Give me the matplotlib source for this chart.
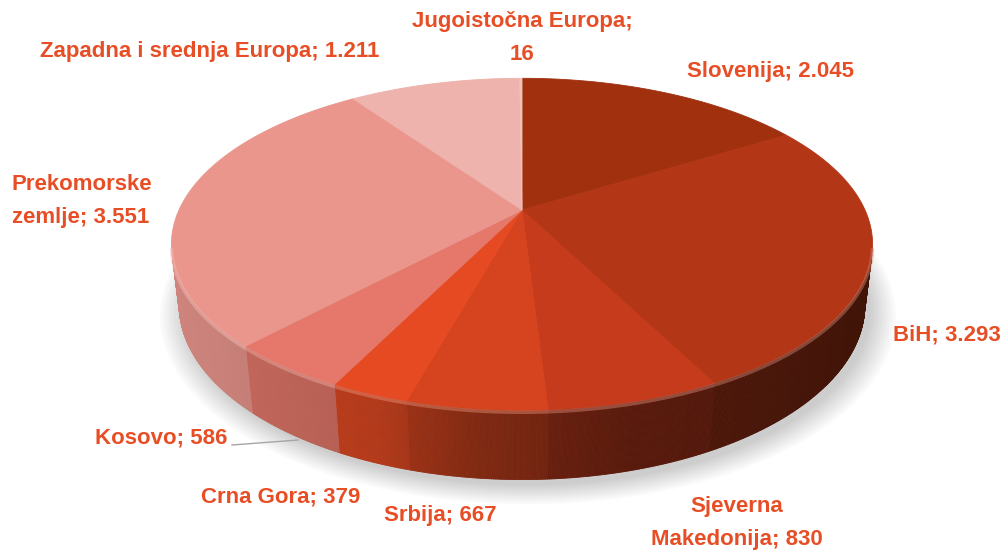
import numpy as np
import matplotlib
matplotlib.use('Agg')
import matplotlib.pyplot as plt
from matplotlib.collections import PolyCollection
from matplotlib.colors import to_rgb

# data
categories = ["Slovenija", "BiH", "Sjeverna\nMakedonija", "Srbija", "Crna Gora",
              "Kosovo", "Prekomorske\nzemlje", "Zapadna i srednja Europa",
              "Jugoistočna Europa;\n"]
values = [2045, 3293, 830, 667, 379, 586, 3551, 1211, 16]
value_labels = ["2.045", "3.293", "830", "667", "379", "586", "3.551", "1.211", "16"]
colors = ['#A1300F', '#B33616', '#C63B1C', '#D5441E', '#E54A22',
          '#E5786A', '#EA968D', '#EDB3AC', '#F0C4BE']

# label placement (pixel coords, ha)
label_pos = [(771, 72, 'center'), (893, 335, 'left'), (737, 523, 'center'),
             (440, 515, 'center'), (281, 497, 'center'), (95, 438, 'left'),
             (12, 201, 'left'), (210, 52, 'center'), (522, 38, 'center')]

W, H = 1006, 551
fig = plt.figure(figsize=(W / 100, H / 100), dpi=100)
ax = fig.add_axes([0, 0, 1, 1])
ax.set_xlim(0, W)
ax.set_ylim(H, 0)
ax.axis('off')

# perspective settings
CX, CY = 522, 210
S = 343
elev = np.radians(27.6)
F = 4.29
DEPTH = 0.2
se, ce = np.sin(elev), np.cos(elev)


def proj(x, y, z):
    Y = y * se + z * ce
    Z = y * ce - z * se
    k = F / (F + Z)
    return CX + S * x * k, CY - S * Y * k


total = sum(values)
fracs = np.array(values) / total
cum = np.concatenate([[0], np.cumsum(fracs)])
t_start = np.radians(90 - 360 * cum[:-1])
t_end = np.radians(90 - 360 * cum[1:])
vis_lim = -1.0 / (F * ce)

# soft shadow
tt = np.linspace(0, 2 * np.pi, 300)
for r in np.linspace(1.07, 1.0, 10):
    sx, sy = proj(r * np.cos(tt), r * np.sin(tt), -DEPTH)
    ax.fill(sx + 6, sy + 6, color='#000000', alpha=0.02, lw=0)

# walls
shade_t = [0, 0.29, 0.44, 0.65, 0.88, 1]
shade_f = [0.88, 0.78, 0.60, 0.45, 0.40, 0.36]
polys, pcols = [], []
for i in range(len(values)):
    th = np.linspace(t_start[i], t_end[i], max(3, int(abs(t_end[i] - t_start[i]) / 0.005)))
    base = np.array(to_rgb(colors[i]))
    for a, b in zip(th[:-1], th[1:]):
        if np.sin(a) < vis_lim and np.sin(b) < vis_lim:
            x1, y1 = proj(np.cos(a), np.sin(a), 0)
            x2, y2 = proj(np.cos(b), np.sin(b), 0)
            x3, y3 = proj(np.cos(b), np.sin(b), -DEPTH)
            x4, y4 = proj(np.cos(a), np.sin(a), -DEPTH)
            t = ((x1 + x2) / 2 - 172) / 700
            c = base * np.interp(t, shade_t, shade_f)
            polys.append([(x1, y1), (x2, y2), (x3, y3), (x4, y4)])
            pcols.append(c)
ax.add_collection(PolyCollection(polys, facecolors=pcols, edgecolors=pcols, linewidths=0.6))

# top faces
for i in range(len(values)):
    th = np.linspace(t_start[i], t_end[i], 200)
    px, py = proj(np.cos(th), np.sin(th), 0)
    xs = np.concatenate([[CX], px])
    ys = np.concatenate([[CY], py])
    ax.fill(xs, ys, color=colors[i], lw=0.6, ec=colors[i])
    # bevel highlight on front edge
    m = np.sin(th) < vis_lim + 0.05
    if m.any():
        light = np.array(to_rgb(colors[i])) * 0.6 + 0.4
        ax.plot(px[m], py[m] + 2, color=light, lw=2.5, alpha=0.45, solid_capstyle='butt')

# labels
txt_color = '#E84E25'
for i in range(len(values)):
    x, y, ha = label_pos[i]
    if i == len(values) - 1:
        s = categories[i] + value_labels[i]
    else:
        s = f"{categories[i]}; {value_labels[i]}"
    ax.text(x, y, s, ha=ha, va='center', color=txt_color, fontsize=16,
            fontweight='bold', family='Liberation Sans', linespacing=1.7,
            multialignment=ha)

# Kosovo leader line
ax.plot([232, 298], [445, 440], color='#A6A6A6', lw=1)

plt.savefig('out.png', dpi=100)
plt.close()
